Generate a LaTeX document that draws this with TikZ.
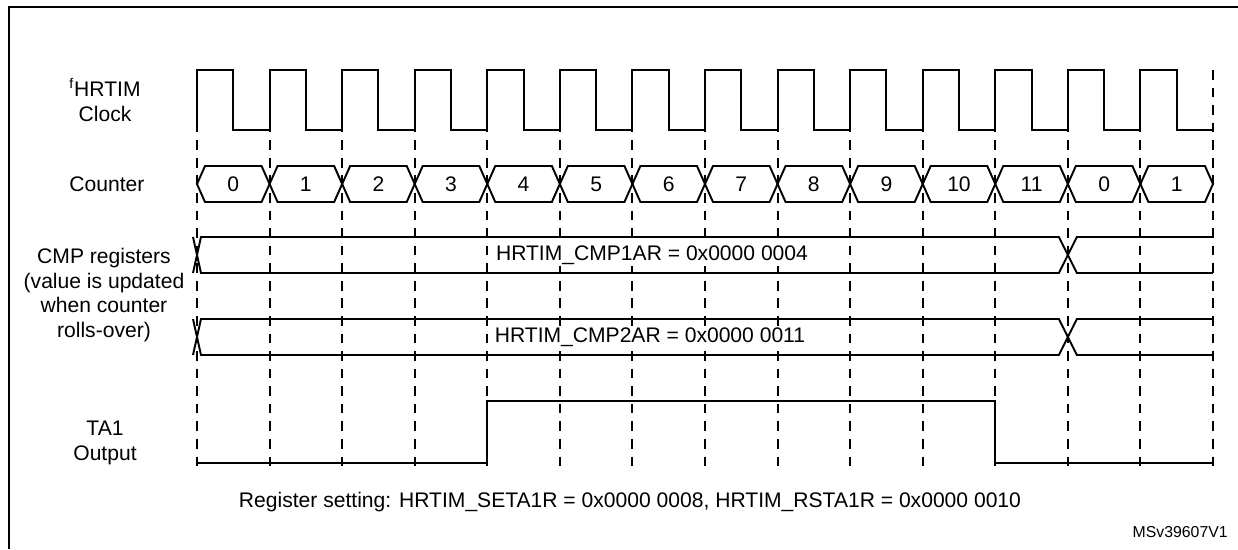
\documentclass[tikz,border=0pt]{standalone}
\usepackage{fontspec}
\setmainfont{Liberation Sans}
\usetikzlibrary{calc,positioning}

\begin{document}
\begin{tikzpicture}[x=0.02cm,y=-0.02cm,
  wave/.style={line width=1.1pt, line join=miter},
  gridline/.style={line width=1.1pt, dash pattern=on 5.5pt off 4.5pt},
  lbl/.style={align=center, font=\fontsize{12}{14}\selectfont, inner sep=0pt},
  val/.style={font=\fontsize{12}{14}\selectfont, inner sep=0pt}]
\useasboundingbox (0,0) rectangle (1238,549);
\def\tz{197}
\def\tp{72.57}
\draw[line width=1.3pt] (9,549) -- (9,7) -- (1238,7);
% time marks
\foreach \i in {0,...,14}
  \draw[gridline] ({\tz+\tp*\i},70) -- ({\tz+\tp*\i},470);
% row labels
\node[lbl] (clk) at (105,100) {\textsuperscript{f}HRTIM\\Clock};
\node[lbl] (cnt) at (107,184) {Counter};
\node[lbl] (cmp) at (104,295) {CMP registers\\(value is updated\\when counter\\rolls-over)};
\node[lbl] (out) at (105,443) {TA1\\Output};
% clock
\draw[wave] (\tz,130) \foreach \i in {0,...,13} { -- ++(0,-60) -- ++(\tp/2,0) -- ++(0,60) -- ++(\tp/2,0) };
% counter
\foreach \v [count=\i from 0] in {0,1,2,3,4,5,6,7,8,9,10,11,0,1} {
  \draw[wave] ({\tz+\tp*\i},184) -- ++(8,-18) -- ({\tz+\tp*(\i+1)-8},166) -- ++(8,18) -- ++(-8,18) -- ({\tz+\tp*\i+8},202) -- cycle;
  \node[val] (c\i) at ({\tz+\tp*(\i+0.5)},184) {\v};
}
% compare registers
\draw[wave] ({\tz-4},237) -- ({\tz+4},273) -- ({\tz+\tp*12-9},273) -- ({\tz+\tp*12+9},237) -- ({\tz+\tp*14},237);
\draw[wave] ({\tz-4},273) -- ({\tz+4},237) -- ({\tz+\tp*12-9},237) -- ({\tz+\tp*12+9},273) -- ({\tz+\tp*14},273);
\draw[wave] ({\tz-4},319) -- ({\tz+4},355) -- ({\tz+\tp*12-9},355) -- ({\tz+\tp*12+9},319) -- ({\tz+\tp*14},319);
\draw[wave] ({\tz-4},355) -- ({\tz+4},319) -- ({\tz+\tp*12-9},319) -- ({\tz+\tp*12+9},355) -- ({\tz+\tp*14},355);
\node[val, fill=white, inner xsep=3pt, inner ysep=1pt] (cmp1) at (652,255) {HRTIM\_CMP1AR = 0x0000 0004};
\node[val, fill=white, inner xsep=3pt, inner ysep=1pt] (cmp2) at (650,337) {HRTIM\_CMP2AR = 0x0000 0011};
% output
\draw[wave] (\tz,463) -- ({\tz+\tp*4},463) -- ({\tz+\tp*4},401) -- ({\tz+\tp*11},401) -- ({\tz+\tp*11},463) -- ({\tz+\tp*14},463);
\node[val] (reg) at (630,502) {Register setting: HRTIM\_SETA1R = 0x0000 0008, HRTIM\_RSTA1R = 0x0000 0010};
\node[font=\fontsize{9}{11}\selectfont, inner sep=0pt, anchor=east] (ref) at (1228,532) {MSv39607V1};
\end{tikzpicture}
\end{document}
